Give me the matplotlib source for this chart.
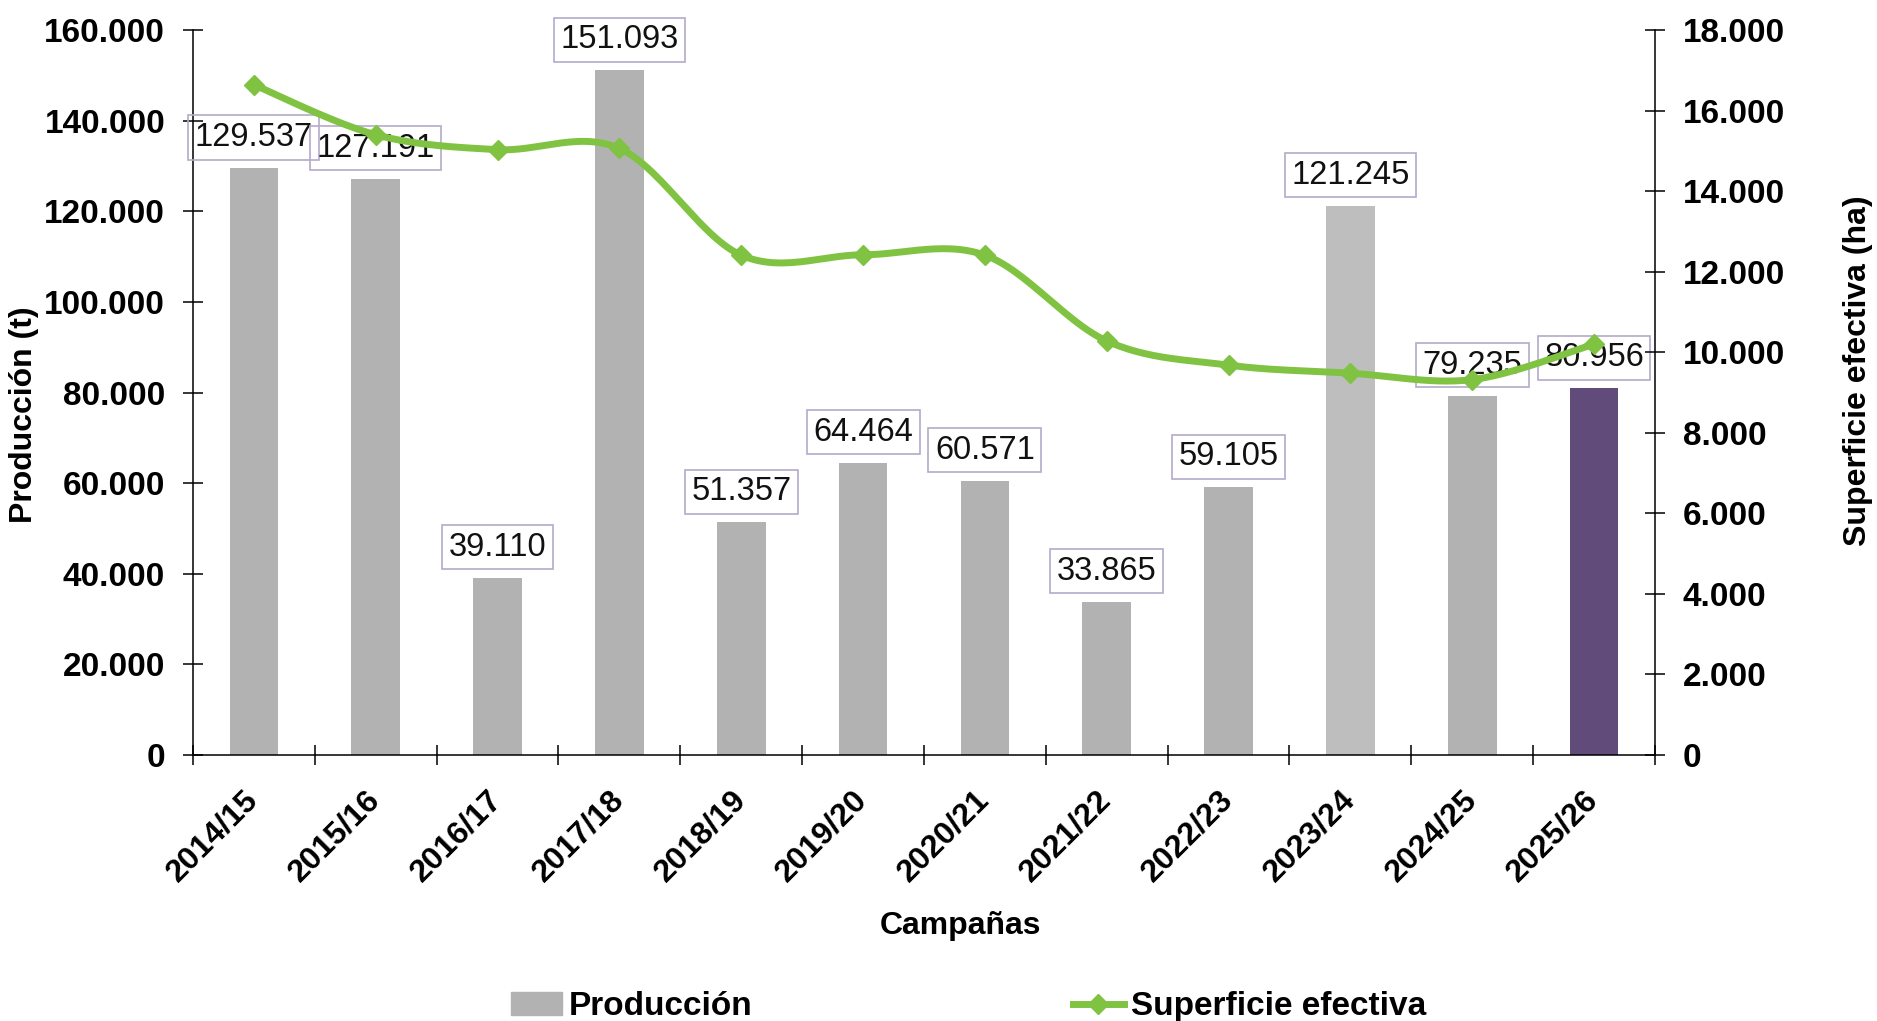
import numpy as np
import matplotlib
matplotlib.use("Agg")
import matplotlib.pyplot as plt
from matplotlib.patches import Patch
from matplotlib.lines import Line2D

plt.rcParams['font.family'] = ['Liberation Sans', 'DejaVu Sans']

campanas = ["2014/15", "2015/16", "2016/17", "2017/18", "2018/19", "2019/20",
            "2020/21", "2021/22", "2022/23", "2023/24", "2024/25", "2025/26"]
produccion = [129537, 127191, 39110, 151093, 51357, 64464,
              60571, 33865, 59105, 121245, 79235, 80956]
superficie = [16640, 15400, 15030, 15060, 12410, 12420,
              12410, 10280, 9680, 9480, 9320, 10200]
bar_colors = ["#B2B2B2"] * 9 + ["#BEBEBE", "#B2B2B2", "#614B7B"]
green = "#80C342"


def fmt_miles(v, pos=None):
    return f"{v:,.0f}".replace(",", ".")


def smooth(xs, ys, n=30):
    # excel style smoothed line (bezier with catmull-rom tangents)
    pts = np.column_stack([xs, ys]).astype(float)
    out = [pts[0]]
    for i in range(len(pts) - 1):
        p0 = pts[i - 1] if i > 0 else pts[i]
        p1, p2 = pts[i], pts[i + 1]
        p3 = pts[i + 2] if i + 2 < len(pts) else pts[i + 1]
        c1 = p1 + (p2 - p0) / 6
        c2 = p2 - (p3 - p1) / 6
        t = np.linspace(0, 1, n)[1:, None]
        seg = (1 - t) ** 3 * p1 + 3 * (1 - t) ** 2 * t * c1 + 3 * (1 - t) * t ** 2 * c2 + t ** 3 * p2
        out.extend(seg)
    out = np.array(out)
    return out[:, 0], out[:, 1]


fig = plt.figure(figsize=(18.77, 10.21), dpi=100)
ax = fig.add_axes([0.1028, 0.2605, 0.7789, 0.7101])
x = np.arange(len(campanas))

ax.bar(x, produccion, width=0.4, color=bar_colors, zorder=2)
for xi, v in zip(x, produccion):
    ax.annotate(fmt_miles(v), (xi, v), xytext=(0, 22), textcoords="offset points",
                ha="center", va="center", fontsize=23.5, color="#111111",
                bbox=dict(boxstyle="square,pad=0.2", fc="none", ec="#B4AACB", lw=1.2))

ax.set_xlim(-0.5, len(campanas) - 0.5)
ax.set_ylim(0, 160000)
ax.set_yticks(np.arange(0, 160001, 20000))
ax.yaxis.set_major_formatter(fmt_miles)
ax.set_xticks(np.arange(-0.5, len(campanas), 1.0))
ax.set_xticklabels([])
ax.set_xticks(x, minor=True)
ax.set_xticklabels(campanas, minor=True)
ax.tick_params(axis="x", which="major", direction="inout", length=14, width=1.1)
ax.tick_params(axis="x", which="minor", length=0, pad=29, labelsize=23)
ax.tick_params(axis="y", direction="inout", length=14, width=1.1, pad=13, labelsize=24)
for lab in ax.get_xticklabels(minor=True):
    lab.set_rotation(45)
    lab.set_ha("right")
    lab.set_va("center")
    lab.set_rotation_mode("anchor")
    lab.set_fontweight("bold")
for lab in ax.get_yticklabels():
    lab.set_fontweight("bold")

ax.spines["top"].set_visible(False)
ax.spines["right"].set_visible(False)
for s in ["left", "bottom"]:
    ax.spines[s].set_linewidth(1.1)

ax.set_xlabel("Campañas", fontsize=23, fontweight="bold")
ax.xaxis.set_label_coords(0.525, -0.215)
ax.set_ylabel("Producción (t)", fontsize=23, fontweight="bold", va="center")
ax.yaxis.set_label_coords(-0.1156, 0.47)

ax2 = ax.twinx()
sx, sy = smooth(x, superficie)
ax2.plot(sx, sy, color=green, lw=5, solid_capstyle="round", zorder=3)
ax2.plot(x, superficie, ls="none", marker="D", ms=10.5, color=green, zorder=4)
ax2.set_ylim(0, 18000)
ax2.set_yticks(np.arange(0, 18001, 2000))
ax2.yaxis.set_major_formatter(fmt_miles)
ax2.tick_params(axis="y", direction="inout", length=14, width=1.1, pad=13, labelsize=24)
for lab in ax2.get_yticklabels():
    lab.set_fontweight("bold")
ax2.spines["top"].set_visible(False)
ax2.spines["left"].set_visible(False)
ax2.spines["bottom"].set_visible(False)
ax2.spines["right"].set_linewidth(1.1)
ax2.set_ylabel("Superficie efectiva (ha)", fontsize=23, fontweight="bold", va="center")
ax2.yaxis.set_label_coords(1.139, 0.53)

handles = [Patch(color="#B2B2B2", label="Producción"),
           Line2D([], [], color=green, lw=5, marker="D", ms=10.5, label="Superficie efectiva")]
fig.legend(handles=handles, loc="center left", bbox_to_anchor=(0.272, 0.014),
           ncol=2, frameon=False, borderpad=0, borderaxespad=0,
           handlelength=1.55, handletextpad=0.2, columnspacing=9.6,
           prop={"size": 24, "weight": "bold"})

fig.savefig("out.png", dpi=100)
